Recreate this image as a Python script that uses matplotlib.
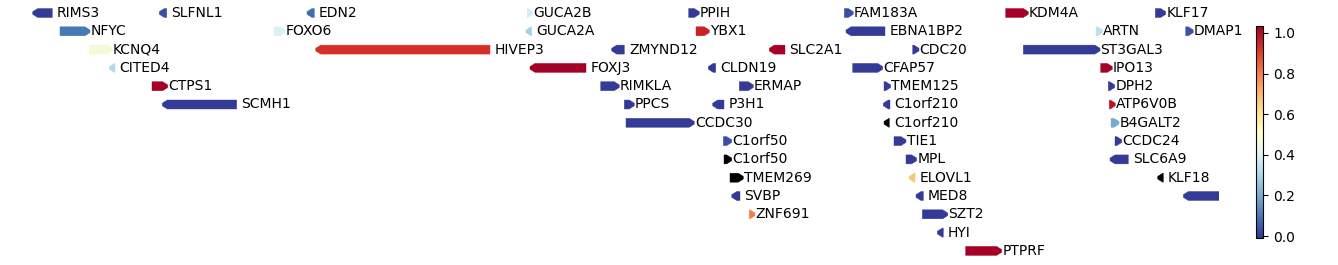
"""Gene track: arrows per gene, coloured by score (RdYlBu_r), stacked in rows."""
import numpy as np
import matplotlib
matplotlib.use("Agg")
import matplotlib.pyplot as plt
from matplotlib.patches import Polygon
from matplotlib.colors import Normalize
from matplotlib.cm import ScalarMappable

# track coordinates (arbitrary units along the region), one entry per gene
genes = ["RIMS3", "SLFNL1", "EDN2", "GUCA2B", "PPIH", "FAM183A", "KDM4A", "KLF17",
         "NFYC", "FOXO6", "GUCA2A", "YBX1", "EBNA1BP2", "ARTN", "DMAP1",
         "KCNQ4", "HIVEP3", "ZMYND12", "SLC2A1", "CDC20", "ST3GAL3",
         "CITED4", "FOXJ3", "CLDN19", "CFAP57", "IPO13",
         "CTPS1", "RIMKLA", "ERMAP", "TMEM125", "DPH2",
         "SCMH1", "PPCS", "P3H1", "C1orf210", "ATP6V0B",
         "CCDC30", "C1orf210", "B4GALT2",
         "C1orf50", "TIE1", "CCDC24",
         "C1orf50", "MPL", "SLC6A9",
         "TMEM269", "ELOVL1", "KLF18",
         "SVBP", "MED8", "",
         "ZNF691", "SZT2",
         "HYI",
         "PTPRF"]
rows = [0, 0, 0, 0, 0, 0, 0, 0,
        1, 1, 1, 1, 1, 1, 1,
        2, 2, 2, 2, 2, 2,
        3, 3, 3, 3, 3,
        4, 4, 4, 4, 4,
        5, 5, 5, 5, 5,
        6, 6, 6,
        7, 7, 7,
        8, 8, 8,
        9, 9, 9,
        10, 10, 10,
        11, 11,
        12,
        13]
starts = [32.7, 159.3, 307.0, 527.3, 688.7, 844.3, 1005.7, 1155.3,
          60.0, 274.0, 526.0, 696.0, 846.0, 1096.0, 1185.7,
          89.3, 315.7, 611.7, 769.3, 912.7, 1023.3,
          109.3, 530.0, 708.3, 852.7, 1100.7,
          152.0, 600.7, 739.3, 884.0, 1108.3,
          162.3, 624.3, 712.7, 883.3, 1109.3,
          626.0, 884.0, 1111.0,
          723.3, 894.0, 1115.0,
          724.0, 906.0, 1110.0,
          730.0, 909.3, 1157.7,
          731.7, 916.0, 1183.3,
          749.3, 922.3,
          937.3,
          965.7]
ends = [52.3, 166.7, 314.3, 532.7, 699.3, 853.3, 1028.3, 1165.7,
        90.0, 285.0, 531.7, 709.3, 885.0, 1102.7, 1193.3,
        112.3, 490.0, 624.3, 785.0, 919.0, 1100.0,
        115.0, 586.0, 715.7, 882.7, 1112.3,
        167.7, 619.3, 753.3, 890.7, 1114.7,
        236.7, 634.3, 724.0, 890.0, 1115.3,
        694.3, 889.3, 1119.0,
        731.7, 906.0, 1121.7,
        731.7, 916.7, 1128.3,
        743.3, 915.0, 1163.3,
        740.0, 923.3, 1240.0,
        755.0, 947.7,
        943.3,
        1001.7]
strands = [-1, -1, -1, 1, 1, 1, 1, 1,
           1, 1, -1, 1, -1, 1, 1,
           1, -1, -1, -1, 1, 1,
           -1, -1, -1, 1, 1,
           1, 1, 1, 1, 1,
           -1, 1, -1, -1, 1,
           1, -1, 1,
           1, 1, 1,
           1, 1, -1,
           1, -1, -1,
           -1, -1, -1,
           1, 1,
           -1,
           1]
nan = float("nan")
scores = [0.0, 0.03, 0.08, 0.38, 0.0, 0.03, 1.03, 0.0,
          0.10, 0.40, 0.29, 0.96, 0.0, 0.34, 0.04,
          0.47, 0.93, 0.0, 1.03, 0.0, 0.0,
          0.31, 1.03, 0.0, 0.0, 1.03,
          1.03, 0.0, 0.0, 0.0, 0.0,
          0.0, 0.0, 0.0, 0.0, 0.99,
          0.0, nan, 0.2,
          0.03, 0.0, 0.0,
          nan, 0.0, 0.0,
          nan, 0.68, nan,
          0.0, 0.0, 0.0,
          0.80, 0.0,
          0.0,
          1.03]
score_min, score_max = -0.011, 1.034
cbar_ticks = [0.0, 0.2, 0.4, 0.6, 0.8, 1.0]


def gene_arrow(x0, x1, y, strand, height=0.49, head=5.0, tip=0.15):
    head = min(head, x1 - x0)
    top, bot = y - height / 2, y + height / 2
    if strand > 0:
        pts = [(x0, top), (x1 - head, top), (x1, y - height * tip),
               (x1, y + height * tip), (x1 - head, bot), (x0, bot)]
    else:
        pts = [(x1, top), (x0 + head, top), (x0, y - height * tip),
               (x0, y + height * tip), (x0 + head, bot), (x1, bot)]
    return pts


W, H = 1338, 265
fig = plt.figure(figsize=(W / 100, H / 100), dpi=100)
ax = fig.add_axes([0, 0, 1219 / W, 1])
cmap = plt.get_cmap("RdYlBu_r")
norm = Normalize(vmin=score_min, vmax=score_max)

for name, r, s, e, st, v in zip(genes, rows, starts, ends, strands, scores):
    color = "black" if np.isnan(v) else cmap(norm(v))
    ax.add_patch(Polygon(gene_arrow(s, e, r, st), closed=True,
                         facecolor=color, edgecolor=color, linewidth=0.3))
    if name:
        off = 0.4 if st > 0 else 3.3
        ax.annotate(name, (e, r), xytext=(off, 0), textcoords="offset points",
                    ha="left", va="center", fontsize=10)

row_px = 18.3
ax.set_xlim(0, 1219)
ax.set_ylim((H - 13) / row_px, -13 / row_px)
ax.axis("off")

cax = fig.add_axes([1256 / W, (H - 238.3) / H, 7.3 / W, 212.3 / H])
cb = fig.colorbar(ScalarMappable(norm=norm, cmap=cmap), cax=cax)
cb.set_ticks(cbar_ticks)
cb.ax.tick_params(labelsize=10)

fig.savefig("out.png", dpi=100)
